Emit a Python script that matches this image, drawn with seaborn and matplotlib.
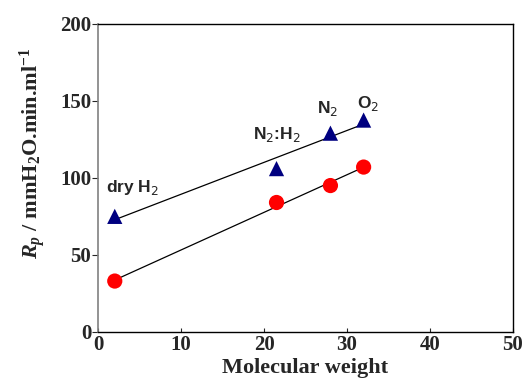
import numpy as np
import pandas as pd
import matplotlib
matplotlib.use('Agg')
import matplotlib.pyplot as plt
import seaborn as sns

# data
gases = ['dry H$_2$', 'N$_2$:H$_2$', 'N$_2$', 'O$_2$']
mol_weight = [2, 21.5, 28, 32]
rp_triangle = [75, 106, 129, 137.5]
rp_circle = [33, 84, 95, 107]

sns.set_style('white')
plt.rcParams['font.family'] = ['Liberation Serif', 'DejaVu Serif']
plt.rcParams['mathtext.fontset'] = 'custom'
plt.rcParams['mathtext.rm'] = 'Liberation Serif:bold'
plt.rcParams['mathtext.it'] = 'Liberation Serif:italic:bold'

df = pd.DataFrame({'mw': mol_weight, 'tri': rp_triangle, 'circ': rp_circle})

fig = plt.figure(figsize=(5.25, 3.78), dpi=100)
ax = fig.add_axes([0.187, 0.122, 0.79, 0.815])

# fitted lines
sns.regplot(data=df, x='mw', y='tri', scatter=False, ci=None, ax=ax,
            line_kws={'color': 'black', 'lw': 0.9})
sns.regplot(data=df, x='mw', y='circ', scatter=False, ci=None, ax=ax,
            line_kws={'color': 'black', 'lw': 0.9})

# markers
sns.scatterplot(data=df, x='mw', y='tri', marker='^', s=120, color='#000080',
                edgecolor='none', ax=ax, zorder=3)
sns.scatterplot(data=df, x='mw', y='circ', marker='o', s=120, color='#ff0000',
                edgecolor='none', ax=ax, zorder=3)

# gas labels
label_pos = [(1.0, 91), (18.7, 125), (26.4, 142), (31.2, 145.5)]
for g, (lx, ly) in zip(gases, label_pos):
    ax.text(lx, ly, g, fontsize=12.5, family='Liberation Sans', fontweight='bold',
            math_fontfamily='dejavusans', va='baseline', ha='left')

ax.set_xlim(0, 50)
ax.set_ylim(0, 200)
ax.set_xticks(range(0, 51, 10))
ax.set_yticks(range(0, 201, 50))
ax.tick_params(axis='x', direction='in', length=3, pad=2, labelsize=15, bottom=True)
ax.tick_params(axis='y', direction='out', length=4, pad=1, labelsize=15, left=True)
for lab in ax.get_xticklabels() + ax.get_yticklabels():
    lab.set_fontweight('bold')

for side in ['top', 'right', 'bottom']:
    ax.spines[side].set_color('black')
    ax.spines[side].set_linewidth(1.0)
ax.spines['left'].set_color('#808080')
ax.spines['left'].set_linewidth(1.2)

ax.set_xlabel('Molecular weight', fontsize=16, fontweight='bold')
ax.xaxis.set_label_coords(0.5, -0.085, transform=ax.transAxes)
ax.xaxis.label.set_va('top')
ax.set_ylabel('$R_p$ / mmH$_2$O.min.ml$^{-1}$', fontsize=16, fontweight='bold')
ax.yaxis.set_label_coords(-0.12, 0.58)

fig.savefig('out.png', dpi=100)
